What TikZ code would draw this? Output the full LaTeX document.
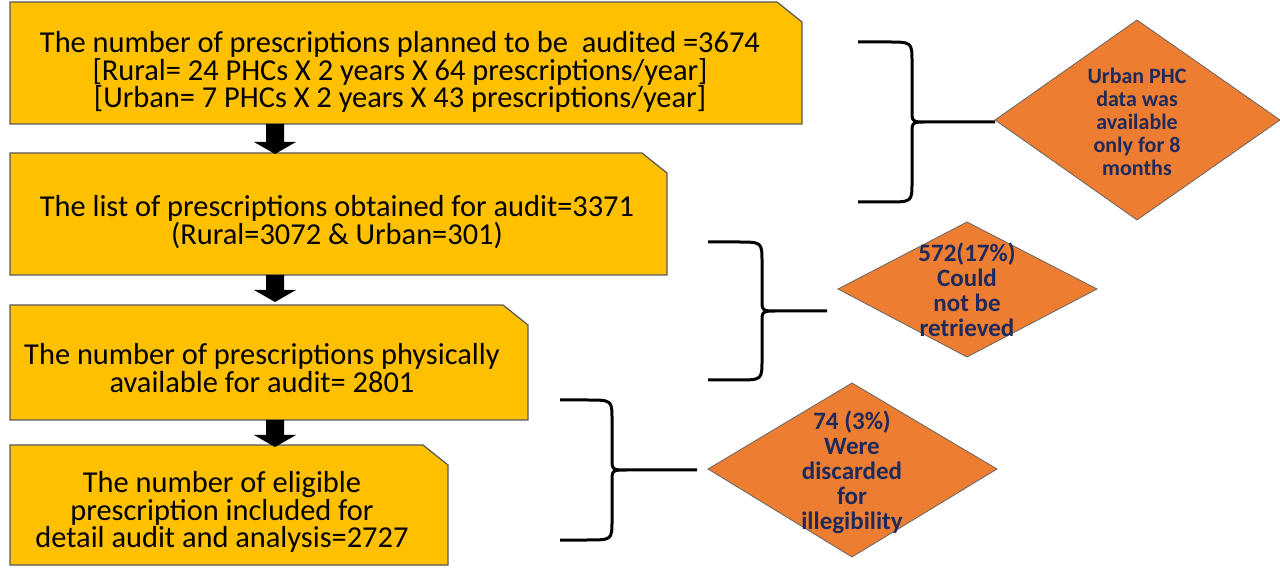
\documentclass[tikz,border=0pt]{standalone}
\usepackage{fontspec}
\setmainfont{Carlito}
\usetikzlibrary{shapes.geometric}
\definecolor{boxy}{HTML}{FFC000}
\definecolor{dia}{HTML}{ED7D31}
\definecolor{navy}{HTML}{1F2A5C}
\begin{document}
\begin{tikzpicture}[x=0.5pt,y=-0.5pt,
 box/.style={fill=boxy,draw=gray!70!black,line width=0.6pt},
 dtext/.style={text=navy,align=center},
 btext/.style={font=\fontsize{15.2}{13.6}\selectfont,align=center},
 arr/.style={fill=black},
 brace/.style={line width=1.5pt}]
\useasboundingbox (0,0) rectangle (1280,571);
\newcommand{\cbox}[5]{\filldraw[box] (#1,#2) -- (#3-25,#2) -- (#3,#2+20) -- (#3,#4) -- (#1,#4) -- cycle;
 \coordinate (#5) at ({(#1+#3)/2},{(#2+#4)/2});}
\cbox{10}{2}{802}{124}{b1}
\cbox{10}{153}{667}{275}{b2}
\cbox{10}{305}{528}{420}{b3}
\cbox{10}{445}{448}{565}{b4}
\node[btext] (t1) at (400,72) {The number of prescriptions planned to be\ \ audited =3674\\{}[Rural= 24 PHCs X 2 years X 64 prescriptions/year]\\{}[Urban= 7 PHCs X 2 years X 43 prescriptions/year]};
\node[btext] (t2) at (337,222) {The list of prescriptions obtained for audit=3371\\(Rural=3072 \& Urban=301)};
\node[btext] (t3) at (262,368) {The number of prescriptions physically\\available for audit= 2801};
\node[btext] (t4) at (222,512) {The number of eligible\\prescription included for\\detail audit and analysis=2727};
\newcommand{\barr}[2]{\fill[arr] (266,#1) -- (284,#1) -- (284,#2-12) -- (296,#2-12) -- (275,#2) -- (254,#2-12) -- (266,#2-12) -- cycle;}
\barr{124}{154}
\barr{275}{302}
\barr{420}{447}
\newcommand{\brc}[6]{\draw[brace] (#1,#2) -- (#3-25,#2) .. controls (#3,#2) .. (#3,#2+20) -- (#3,#4-12) .. controls (#3,#4) .. (#3+15,#4) -- (#5,#4) (#3+15,#4) .. controls (#3,#4) .. (#3,#4+12) -- (#3,#6-20) .. controls (#3,#6) .. (#3-25,#6) -- (#1,#6);}
\brc{858}{42}{912}{122}{995}{202}
\brc{708}{242}{762}{311}{827}{380}
\brc{560}{400}{612}{470}{697}{540}
\fill[dia,draw=black!60,line width=0.4pt] (995,120) -- (1137,20) -- (1280,120) -- (1137,220) -- cycle;
\node[dtext,font=\fontsize{11}{11.5}\selectfont\bfseries] (d1) at (1137,122) {Urban PHC\\data was\\available\\only for 8\\months};
\fill[dia,draw=black!60,line width=0.4pt] (838,289) -- (967,222) -- (1097,289) -- (967,357) -- cycle;
\node[dtext,font=\fontsize{12.5}{12.5}\selectfont\bfseries] (d2) at (967,290) {572(17\%)\\Could\\not be\\retrieved};
\fill[dia,draw=black!60,line width=0.4pt] (708,469) -- (852,383) -- (997,469) -- (852,557) -- cycle;
\node[dtext,font=\fontsize{12.5}{12.5}\selectfont\bfseries] (d3) at (852,472) {74 (3\%)\\Were\\discarded\\for\\illegibility};
\end{tikzpicture}
\end{document}
